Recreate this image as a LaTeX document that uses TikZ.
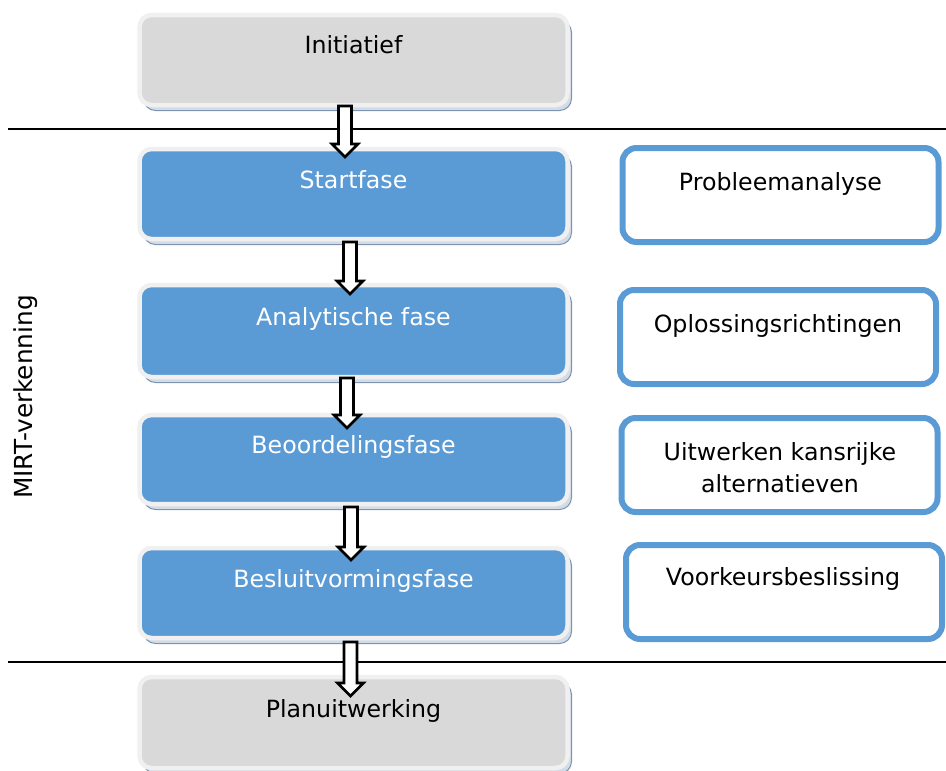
\documentclass[tikz,border=0pt]{standalone}
\usepackage{fontspec}
\setmainfont{DejaVu Sans}
\usetikzlibrary{calc,shadows}
\definecolor{bluefill}{HTML}{5B9BD5}
\definecolor{grayfill}{HTML}{D9D9D9}
\definecolor{rimcol}{HTML}{F0F0F0}
\definecolor{shadfill}{HTML}{D3DCE6}
\definecolor{shaddraw}{HTML}{7D95B3}
\newcommand\blockarrow[2]{%
  \draw[arrowline] let \p1=(#1), \p2=(#2) in
    (\x1-6.5pt,\y1) -- (\x1+6.5pt,\y1) -- (\x1+6.5pt,\y2+13pt) -- (\x1+13pt,\y2+13pt)
    -- (\x1,\y2) -- (\x1-13pt,\y2+13pt) -- (\x1-6.5pt,\y2+13pt) -- cycle;}
\begin{document}
\begin{tikzpicture}[x=1pt,y=-1pt,
  every node/.style={font=\fontsize{23.7}{32}\selectfont, outer sep=0pt},
  phasebox/.style={draw=rimcol, line width=4.5pt, rounded corners=12pt,
    minimum width=428pt, inner sep=0pt,
    drop shadow={shadow xshift=4pt, shadow yshift=-5.5pt, fill=shadfill, draw=shaddraw, line width=1pt, opacity=1}},
  bluebox/.style={phasebox, fill=bluefill},
  graybox/.style={phasebox, fill=grayfill},
  sidebox/.style={draw=bluefill, fill=white, line width=6pt, rounded corners=14pt,
    minimum width=316pt, minimum height=94pt, inner sep=0pt},
  whitetext/.style={text=white, anchor=base, inner sep=0pt},
  blacktext/.style={text=black, anchor=base, inner sep=0pt},
  arrowline/.style={draw=black, fill=white, line width=2.6pt, line join=miter},
  sepline/.style={draw=black, line width=2pt}]
\useasboundingbox (0,0) rectangle (946,771);

% separator lines
\coordinate (l1a) at (8,129);  \coordinate (l1b) at (946,129);
\coordinate (l2a) at (8,662);  \coordinate (l2b) at (946,662);
\draw[sepline] (l1a) -- (l1b);
\draw[sepline] (l2a) -- (l2b);

% left phase boxes
\node[graybox, minimum height=90pt] (init) at (353.5,60) {};
\node[blacktext] (tinit) at (353.5,53) {Initiatief};

\node[bluebox, minimum height=90pt] (start) at (353.5,194) {};
\node[whitetext] (tstart) at (353.5,188) {Startfase};

\node[bluebox, minimum height=92pt] (analyt) at (353.5,331) {};
\node[whitetext] (tanalyt) at (353.5,325) {Analytische fase};

\node[bluebox, minimum height=89pt] (beoor) at (353.5,459.5) {};
\node[whitetext] (tbeoor) at (353.5,453) {Beoordelingsfase};

\node[bluebox, minimum height=90pt] (besluit) at (353.5,593) {};
\node[whitetext] (tbesluit) at (353.5,587) {Besluitvormingsfase};

\node[graybox, minimum height=91pt] (plan) at (353.5,722.5) {};
\node[blacktext] (tplan) at (353.5,717) {Planuitwerking};

% right boxes
\node[sidebox] (prob) at (780.5,195) {};
\node[blacktext] (tprob) at (780.5,190) {Probleemanalyse};

\node[sidebox] (opl) at (778,337) {};
\node[blacktext] (topl) at (778,332) {Oplossingsrichtingen};

\node[sidebox] (uitw) at (779.5,465) {};
\node[blacktext] (tuitw1) at (780,460) {Uitwerken kansrijke};
\node[blacktext] (tuitw2) at (780,492) {alternatieven};

\node[sidebox] (voork) at (784,592) {};
\node[blacktext] (tvoork) at (783,585) {Voorkeursbeslissing};

% vertical label
\node[text=black, rotate=90, inner sep=0pt, font=\fontsize{24.8}{30}\selectfont] (mirt) at (26,397) {MIRT-verkenning};

% block arrows
\coordinate (a1s) at (345,106);   \coordinate (a1e) at (345,157);
\coordinate (a2s) at (350,242);   \coordinate (a2e) at (350,294);
\coordinate (a3s) at (347,378);   \coordinate (a3e) at (347,428);
\coordinate (a4s) at (351,507);   \coordinate (a4e) at (351,560);
\coordinate (a5s) at (350.5,642); \coordinate (a5e) at (350.5,696);
\blockarrow{a1s}{a1e}
\blockarrow{a2s}{a2e}
\blockarrow{a3s}{a3e}
\blockarrow{a4s}{a4e}
\blockarrow{a5s}{a5e}
\end{tikzpicture}
\end{document}
